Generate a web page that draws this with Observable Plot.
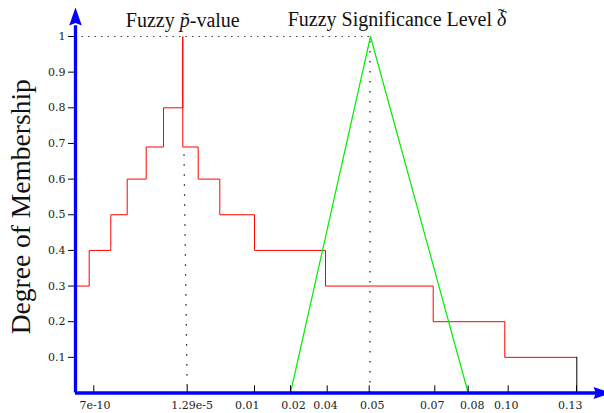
<!DOCTYPE html>
<html>
<head>
<meta charset="utf-8">
<script src="https://cdn.jsdelivr.net/npm/d3@7"></script>
<script src="https://cdn.jsdelivr.net/npm/@observablehq/plot@0.6"></script>
<style>
  html, body { margin: 0; padding: 0; background: #fff; overflow: hidden; }
</style>
</head>
<body>
<div id="chart"></div>
<script>
// ---- data (x in the chart's own display units along the axis) ----
const xTickPos = [18.3, 111.7, 179, 215, 251.7, 293.7, 359.3, 392.7, 432.7, 501];
const xTickLabelPos = [19.5, 116.7, 171.7, 218, 250, 296.7, 356.7, 396.7, 430.8, 494.8];
const xTickLabels = ["7e-10", "1.29e-5", "0.01", "0.02", "0.04", "0.05", "0.07", "0.08", "0.10", "0.13"];
const yTicks = [0.1, 0.2, 0.3, 0.4, 0.5, 0.6, 0.7, 0.8, 0.9, 1];
const yTickLabels = ["0.1", "0.2", "0.3", "0.4", "0.5", "0.6", "0.7", "0.8", "0.9", "1"];

// Fuzzy p-value (step membership function)
const pValueX = [0, 13.7, 35.3, 51.7, 70.7, 88, 107.3, 107.3, 122.7, 144.3, 179, 250, 357.7, 429.3, 501.3];
const pValueY = [0.3, 0.4, 0.5, 0.6, 0.69, 0.8, 1, 0.69, 0.6, 0.5, 0.4, 0.3, 0.2, 0.1, 0.1];

// Fuzzy significance level (triangular)
const deltaX = [215, 295, 392.7];
const deltaY = [0, 1, 0];

const pValuePeakX = 107.3;
const pValueDrop = {x1: 108.5, y1: 0.67, x2: 111.7, y2: 0};
const deltaPeakX = 294.5;
const tailX = 501.3;
const tailY = 0.1;

const titleP = "Fuzzy p\u0303-value";
const titleD = "Fuzzy Significance Level \u03B4";
const yLabel = "Degree of Membership";

// ---- build tables ----
const pValue = pValueX.map((x, i) => ({x, y: pValueY[i]}));
const delta = deltaX.map((x, i) => ({x, y: deltaY[i]}));
const xTicks = xTickPos.map((x, i) => ({x, lx: xTickLabelPos[i], label: xTickLabels[i]}));

const arrowUp = {
  draw(ctx) {
    ctx.moveTo(0, 0); ctx.lineTo(6.3, 18); ctx.lineTo(0, 15.5); ctx.lineTo(-6.3, 18); ctx.closePath();
  }
};
const arrowRight = {
  draw(ctx) {
    ctx.moveTo(0, 0); ctx.lineTo(-18, -6); ctx.lineTo(-15.5, 0); ctx.lineTo(-18, 6); ctx.closePath();
  }
};

const plot = Plot.plot({
  width: 604,
  height: 413,
  marginLeft: 75,
  marginRight: 0,
  marginTop: 36,
  marginBottom: 20.5,
  style: {fontFamily: "DejaVu Serif", fontSize: "11px", color: "#222", background: "#fff"},
  x: {domain: [0, 529], axis: null},
  y: {domain: [0, 1], axis: null},
  marks: [
    // dotted guide lines
    Plot.ruleY([1], {x1: 0, x2: deltaPeakX, stroke: "#444", strokeWidth: 1, strokeDasharray: "1.5,5"}),
    Plot.ruleX([deltaPeakX], {y1: 0, y2: 1, stroke: "#111", strokeWidth: 1.2, strokeDasharray: "1.5,8.5"}),
    Plot.link([pValueDrop], {x1: "x1", y1: "y1", x2: "x2", y2: "y2", stroke: "#111", strokeWidth: 1.2, strokeDasharray: "1.5,8.5"}),
    // membership functions
    Plot.line(pValue, {x: "x", y: "y", curve: "step-after", stroke: "#ff0000", strokeWidth: 1}),
    Plot.ruleX([tailX], {y1: 0, y2: tailY, stroke: "#000", strokeWidth: 1}),
    Plot.line(delta, {x: "x", y: "y", stroke: "#00ee00", strokeWidth: 1.2}),
    // x ticks (inward) and labels
    Plot.ruleX(xTicks, {x: "x", y1: 0, y2: 0.02, stroke: "#000", strokeWidth: 1}),
    Plot.text(xTicks, {x: "lx", y: 0, text: "label", dy: 12.5, fontSize: 11, fontFamily: "DejaVu Serif", fill: "#222"}),
    // y axis ticks and labels
    Plot.axisY(yTicks, {anchor: "left", tickSize: 7, tickPadding: 3, tickFormat: (d, i) => yTickLabels[i], fontSize: 11, fontFamily: "DejaVu Serif", stroke: "#000", color: "#222"}),
    // blue axes with arrowheads
    Plot.ruleX([0], {y1: 0, y2: 1.03, stroke: "#0000ff", strokeWidth: 3.3}),
    Plot.ruleY([0], {x1: 0, x2: 522, stroke: "#0000ff", strokeWidth: 3.3}),
    Plot.dot([{x: 0, y: 1.081}], {x: "x", y: "y", symbol: arrowUp, r: 5, fill: "#0000ff"}),
    Plot.dot([{x: 536, y: 0}], {x: "x", y: "y", symbol: arrowRight, r: 5, fill: "#0000ff"}),
    // titles
    Plot.text([titleP], {x: pValuePeakX, y: 1, text: d => d, dy: -16, fontFamily: "Liberation Serif", fontSize: 20, fill: "#111"}),
    Plot.text([titleD], {x: 321.5, y: 1, text: d => d, dy: -17, fontFamily: "Liberation Serif", fontSize: 20, fill: "#111"}),
    Plot.text([yLabel], {frameAnchor: "left", textAnchor: "middle", text: d => d, rotate: -90, dx: -54, dy: -8, fontFamily: "Liberation Serif", fontSize: 27.5, fill: "#111"})
  ]
});

// italicise the math symbols in the titles and add the tilde over delta
d3.select(plot).selectAll("text").each(function () {
  const t = this.textContent;
  if (t === titleP) {
    const s = d3.select(this).text("");
    s.append("tspan").text("Fuzzy ");
    s.append("tspan").attr("font-style", "italic").text("p\u0303");
    s.append("tspan").text("-value");
  } else if (t === titleD) {
    const s = d3.select(this).text("");
    s.append("tspan").text("Fuzzy Significance Level ");
    s.append("tspan").attr("font-style", "italic").text("\u03B4");
    s.append("tspan").attr("dx", -8.5).attr("dy", -3).attr("font-size", 20).text("\u02DC");
  }
});

document.getElementById("chart").append(plot);
</script>
</body>
</html>
